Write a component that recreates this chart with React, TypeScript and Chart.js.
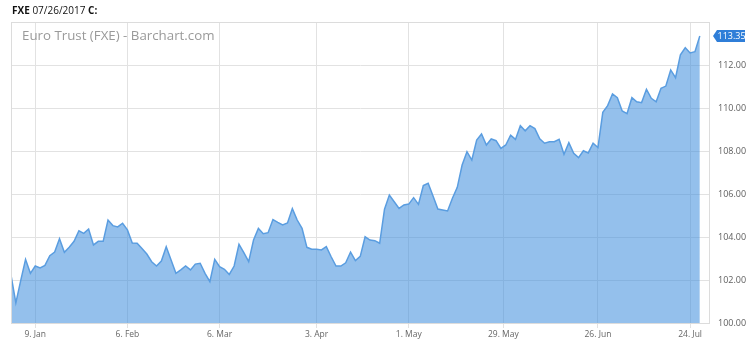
import React, { useEffect, useRef } from "react";
import { Chart, registerables } from "chart.js";

Chart.register(...registerables);

// Daily closes, Dec 30 2016 .. Jul 26 2017 (trading days)
const closes: number[] = [
  102.23, 100.94, 101.97, 102.96, 102.31, 102.65, 102.56, 102.68, 103.13, 103.30,
  103.92, 103.29, 103.52, 103.80, 104.29, 104.17, 104.37, 103.63, 103.80, 103.80,
  104.79, 104.53, 104.47, 104.64, 104.33, 103.72, 103.71, 103.47, 103.21, 102.85,
  102.65, 102.88, 103.55, 102.93, 102.31, 102.47, 102.65, 102.47, 102.74, 102.78,
  102.31, 101.92, 102.96, 102.62, 102.50, 102.26, 102.65, 103.66, 103.27, 102.85,
  103.86, 104.40, 104.15, 104.20, 104.81, 104.68, 104.56, 104.65, 105.32, 104.79,
  104.40, 103.52, 103.43, 103.43, 103.40, 103.55, 103.08, 102.65, 102.65, 102.80,
  103.30, 102.90, 103.10, 104.01, 103.86, 103.83, 103.71, 105.29, 105.95, 105.64,
  105.33, 105.49, 105.53, 105.83, 105.52, 106.39, 106.50, 105.91, 105.30, 105.26,
  105.21, 105.80, 106.31, 107.35, 107.97, 107.58, 108.51, 108.79, 108.28, 108.56,
  108.48, 108.12, 108.28, 108.74, 108.54, 109.18, 108.94, 109.18, 109.04, 108.57,
  108.36, 108.43, 108.43, 108.54, 107.85, 108.39, 107.89, 107.69, 108.01, 107.91,
  108.36, 108.16, 109.80, 110.11, 110.65, 110.48, 109.86, 109.74, 110.48, 110.29,
  110.25, 110.87, 110.45, 110.29, 110.92, 111.02, 111.77, 111.41, 112.47, 112.80,
  112.56, 112.62, 113.35,
];

// x tick positions (trading-day index) and their labels
const xTickIndex: number[] = [5, 24, 43, 63, 82, 101.5, 121, 140];
const xTickLabels: string[] = ["9. Jan", "6. Feb", "6. Mar", "3. Apr", "1. May", "29. May", "26. Jun", "24. Jul"];
const yTickValues: number[] = [100, 102, 104, 106, 108, 110, 112];

const chartTitle = "Euro Trust (FXE) - Barchart.com";
const headSymbol = "FXE";
const headDate = "07/26/2017";
const headClose = "C:";

const FONT = "'Open Sans', 'Noto Sans', sans-serif";

export default function App() {
  const ref = useRef<HTMLCanvasElement | null>(null);

  useEffect(() => {
    if (!ref.current) return;
    const points = closes.map((v, i) => ({ x: i, y: v }));

    const decor = {
      id: "decor",
      afterDatasetsDraw(chart: any) {
        const { ctx, chartArea } = chart;
        ctx.save();
        ctx.strokeStyle = "#dcdcdc";
        ctx.lineWidth = 1;
        ctx.strokeRect(
          Math.round(chartArea.left) + 0.5,
          Math.round(chartArea.top) + 0.5,
          Math.round(chartArea.right - chartArea.left) - 1,
          Math.round(chartArea.bottom - chartArea.top)
        );
        ctx.restore();
      },
      afterDraw(chart: any) {
        const { ctx, chartArea, scales } = chart;
        ctx.save();
        // title inside plot
        ctx.font = `13.3px ${FONT}`;
        ctx.fillStyle = "#9a9a9a";
        ctx.textAlign = "left";
        ctx.textBaseline = "middle";
        ctx.fillText(chartTitle, chartArea.left + 11, chartArea.top + 14);

        // last value badge
        const last = closes[closes.length - 1];
        const y = scales.y.getPixelForValue(last);
        const x0 = chartArea.right + 3;
        ctx.fillStyle = "#2f7ed8";
        ctx.beginPath();
        ctx.moveTo(x0, y);
        ctx.lineTo(x0 + 4, y - 6);
        ctx.lineTo(x0 + 32, y - 6);
        ctx.lineTo(x0 + 32, y + 6);
        ctx.lineTo(x0 + 4, y + 6);
        ctx.closePath();
        ctx.fill();
        ctx.font = `9px ${FONT}`;
        ctx.fillStyle = "#ffffff";
        ctx.fillText(last.toFixed(2), x0 + 4.5, y + 0.5);
        ctx.restore();
      },
    };

    const chart = new Chart(ref.current, {
      type: "line",
      data: {
        datasets: [
          {
            data: points,
            borderColor: "#5a9de0",
            borderWidth: 1.5,
            backgroundColor: "rgba(65,143,222,0.56)",
            fill: "start",
            pointRadius: 0,
            tension: 0,
          },
        ],
      },
      options: {
        responsive: false,
        animation: false,
        layout: { padding: { left: 11, top: 22, right: 0, bottom: 0 } },
        plugins: { legend: { display: false }, tooltip: { enabled: false } },
        scales: {
          x: {
            type: "linear",
            min: 0,
            max: 144.1,
            afterBuildTicks: (scale: any) => {
              scale.ticks = xTickIndex.map((v) => ({ value: v }));
            },
            afterFit: (scale: any) => {
              scale.height = 23;
            },
            grid: { color: "#e2e2e2", drawTicks: true, tickLength: 5, tickColor: "#e2e2e2" },
            border: { display: false },
            ticks: {
              autoSkip: false,
              maxRotation: 0,
              padding: 1,
              color: "#666666",
              font: { size: 8.5, family: FONT },
              callback: (_v: any, i: number) => xTickLabels[i],
            },
          },
          y: {
            position: "right",
            min: 100,
            max: 114,
            afterBuildTicks: (scale: any) => {
              scale.ticks = yTickValues.map((v) => ({ value: v }));
            },
            afterFit: (scale: any) => {
              scale.width = 40;
            },
            grid: { color: "#e2e2e2", drawTicks: false },
            border: { display: false },
            ticks: {
              padding: 8,
              color: "#606060",
              font: { size: 9, family: FONT },
              callback: (v: any) => Number(v).toFixed(2),
            },
          },
        },
      },
      plugins: [decor],
    } as any);

    return () => chart.destroy();
  }, []);

  return (
    <div style={{ position: "absolute", left: 0, top: 0, width: 750, height: 346, background: "#fff" }}>
      <canvas ref={ref} width={750} height={346} style={{ display: "block" }} />
      <div
        style={{
          position: "absolute",
          left: 12,
          top: 4,
          fontFamily: FONT,
          fontSize: 10,
          lineHeight: "13px",
          color: "#111",
          whiteSpace: "nowrap",
        }}
      >
        <b>{headSymbol}</b> {headDate} <b>{headClose}</b>
      </div>
    </div>
  );
}
